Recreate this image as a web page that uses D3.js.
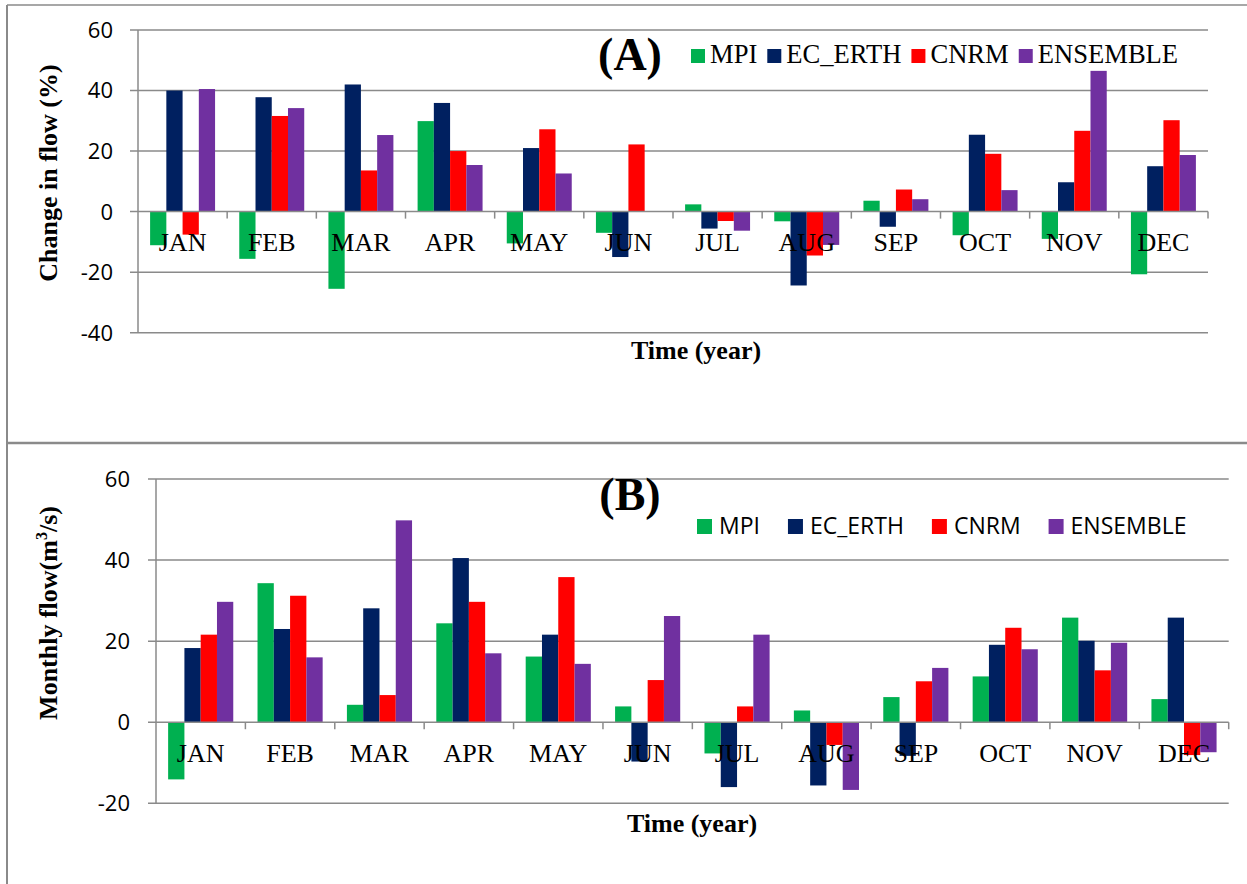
<!DOCTYPE html>
<html>
<head>
<meta charset="utf-8">
<script src="https://cdn.jsdelivr.net/npm/d3@7"></script>
<style>
  html, body { margin: 0; padding: 0; background: #fff; }
  svg { display: block; }
</style>
</head>
<body>
<svg id="chart" width="1247" height="884"></svg>
<script>
// Months on the category axis
const months = ["JAN","FEB","MAR","APR","MAY","JUN","JUL","AUG","SEP","OCT","NOV","DEC"];
const seriesNames = ["MPI","EC_ERTH","CNRM","ENSEMBLE"];
const seriesColors = ["#00b050","#002060","#ff0000","#7030a0"];

// (A) change in flow, %
const changeMPI      = [-11.1,-15.6,-25.5,29.9,-10.5,-7.0,2.4,-3.2,3.6,-7.8,-9.0,-20.7];
const changeEC       = [40.0,37.8,42.0,35.9,21.0,-15.0,-5.6,-24.4,-5.0,25.4,9.7,15.0];
const changeCNRM     = [-7.6,31.6,13.6,20.0,27.2,22.2,-3.1,-14.5,7.3,19.1,26.7,30.2];
const changeENSEMBLE = [40.5,34.2,25.3,15.4,12.6,0,-6.3,-11.0,4.1,7.1,46.5,18.7];
const ticksA = [-40,-20,0,20,40,60];

// (B) monthly flow, m3/s
const flowMPI      = [-14.1,34.3,4.3,24.4,16.2,3.9,-7.7,2.9,6.2,11.3,25.8,5.7];
const flowEC       = [18.3,23.0,28.1,40.5,21.6,-9.7,-16.0,-15.6,-8.3,19.1,20.1,25.8];
const flowCNRM     = [21.6,31.2,6.7,29.7,35.8,10.4,3.9,-5.6,10.1,23.3,12.8,-8.1];
const flowENSEMBLE = [29.7,16.0,49.8,17.0,14.4,26.2,21.6,-16.7,13.4,18.0,19.6,-7.4];
const ticksB = [-20,0,20,40,60];

const svg = d3.select("#chart");
const GRID = "#8a8a8a";

// outer frame and panel divider
svg.append("line").attr("x1",7).attr("x2",1247).attr("y1",5).attr("y2",5)
  .attr("stroke",GRID).attr("stroke-width",1.5);
svg.append("line").attr("x1",7).attr("x2",7).attr("y1",5).attr("y2",884)
  .attr("stroke",GRID).attr("stroke-width",2);
svg.append("line").attr("x1",7).attr("x2",1247).attr("y1",443).attr("y2",443)
  .attr("stroke",GRID).attr("stroke-width",2.5);

function panel(cfg) {
  const g = svg.append("g");
  const x0 = d3.scaleBand().domain(months).range([cfg.left, cfg.right]).padding(0);
  const x1 = d3.scaleBand().domain(seriesNames).range([0, x0.bandwidth()])
    .paddingInner(0).paddingOuter(0.745);
  const y = d3.scaleLinear().domain(cfg.domain).range([cfg.bottom, cfg.top]);

  // horizontal gridlines with left ticks
  g.append("g").selectAll("line").data(cfg.ticks.filter(t => t !== 0)).join("line")
    .attr("x1", cfg.left - 8).attr("x2", cfg.right)
    .attr("y1", d => y(d)).attr("y2", d => y(d))
    .attr("stroke", GRID).attr("stroke-width", 1.5);

  // tick labels
  g.append("g").selectAll("text").data(cfg.ticks).join("text")
    .attr("x", cfg.labelRight).attr("y", d => y(d))
    .attr("dy", "0.36em").attr("text-anchor", "end")
    .attr("font-family", "'Open Sans', sans-serif").attr("font-size", 22)
    .attr("fill", "#000").text(d => d);

  // vertical value axis
  g.append("line").attr("x1", cfg.left).attr("x2", cfg.left)
    .attr("y1", y(cfg.domain[1])).attr("y2", y(cfg.domain[0]))
    .attr("stroke", GRID).attr("stroke-width", 1.5);

  // bars
  const rows = [];
  months.forEach((m, i) => {
    cfg.series.forEach((arr, s) => rows.push({ m, s: seriesNames[s], c: seriesColors[s], v: arr[i] }));
  });
  g.append("g").selectAll("rect").data(rows.filter(d => d.v !== 0)).join("rect")
    .attr("x", d => x0(d.m) + x1(d.s))
    .attr("width", x1.bandwidth())
    .attr("y", d => Math.min(y(d.v), y(0)))
    .attr("height", d => Math.abs(y(d.v) - y(0)))
    .attr("fill", d => d.c);

  // zero line acting as category axis, with ticks between months
  g.append("line").attr("x1", cfg.left - 8).attr("x2", cfg.right)
    .attr("y1", y(0)).attr("y2", y(0)).attr("stroke", GRID).attr("stroke-width", 1.5);
  const bounds = months.map(m => x0(m)).slice(1).concat([cfg.right]);
  g.append("g").selectAll("line").data(bounds).join("line")
    .attr("x1", d => d).attr("x2", d => d)
    .attr("y1", y(0)).attr("y2", y(0) + 7)
    .attr("stroke", GRID).attr("stroke-width", 1.5);

  // month labels
  g.append("g").selectAll("text").data(months).join("text")
    .attr("x", d => x0(d) + x0.bandwidth() / 2).attr("y", y(0) + 39.5)
    .attr("text-anchor", "middle")
    .attr("font-family", "'Liberation Serif', 'Times New Roman', serif").attr("font-size", 26)
    .attr("fill", "#000").text(d => d);

  // panel letter
  g.append("text").attr("x", 630).attr("y", cfg.letterY).attr("text-anchor", "middle")
    .attr("font-family", "'Liberation Serif', 'Times New Roman', serif")
    .attr("font-weight", "bold").attr("font-size", 46).text(cfg.letter);

  // x title
  g.append("text").attr("x", cfg.xTitleX).attr("y", cfg.xTitleY).attr("text-anchor", "middle")
    .attr("font-family", "'Liberation Serif', 'Times New Roman', serif")
    .attr("font-weight", "bold").attr("font-size", 26).text("Time (year)");

  // y title
  const yt = g.append("text")
    .attr("transform", `translate(57,${cfg.yTitleY}) rotate(-90)`)
    .attr("text-anchor", "middle")
    .attr("font-family", "'Liberation Serif', 'Times New Roman', serif")
    .attr("font-weight", "bold").attr("font-size", 26);
  cfg.yTitle(yt);

  // legend
  const lg = g.append("g");
  let cx = cfg.legend.x;
  seriesNames.forEach((name, i) => {
    lg.append("rect").attr("x", cx).attr("y", cfg.legend.y - cfg.legend.sq)
      .attr("width", cfg.legend.sq).attr("height", cfg.legend.sq).attr("fill", seriesColors[i]);
    cx += cfg.legend.sq + cfg.legend.textGap;
    const t = lg.append("text").attr("x", cx).attr("y", cfg.legend.y)
      .attr("font-family", cfg.legend.font).attr("font-size", cfg.legend.size)
      .attr("fill", "#000").text(name);
    cx += t.node().getComputedTextLength() + cfg.legend.itemGap;
  });
}

panel({
  left: 138, right: 1208, top: 30, bottom: 332.7,
  domain: [-40, 60], ticks: ticksA, labelRight: 113,
  series: [changeMPI, changeEC, changeCNRM, changeENSEMBLE],
  letter: "(A)", letterY: 70,
  xTitleX: 696, xTitleY: 359, yTitleY: 173,
  yTitle: t => t.text("Change in flow (%)"),
  legend: { x: 691, y: 63, sq: 14, textGap: 5, itemGap: 10, size: 26.6,
            font: "'Liberation Serif', 'Times New Roman', serif" }
});

panel({
  left: 156, right: 1228.7, top: 479, bottom: 803.3,
  domain: [-20, 60], ticks: ticksB, labelRight: 130,
  series: [flowMPI, flowEC, flowCNRM, flowENSEMBLE],
  letter: "(B)", letterY: 510,
  xTitleX: 692, xTitleY: 832, yTitleY: 613,
  yTitle: t => {
    t.append("tspan").text("Monthly flow(m");
    t.append("tspan").attr("font-size", 16).attr("dy", "-0.6em").text("3");
    t.append("tspan").attr("dy", "0.38em").text("/s)");
  },
  legend: { x: 697, y: 534, sq: 15, textGap: 7, itemGap: 28, size: 23,
            font: "'Open Sans', sans-serif" }
});
</script>
</body>
</html>
